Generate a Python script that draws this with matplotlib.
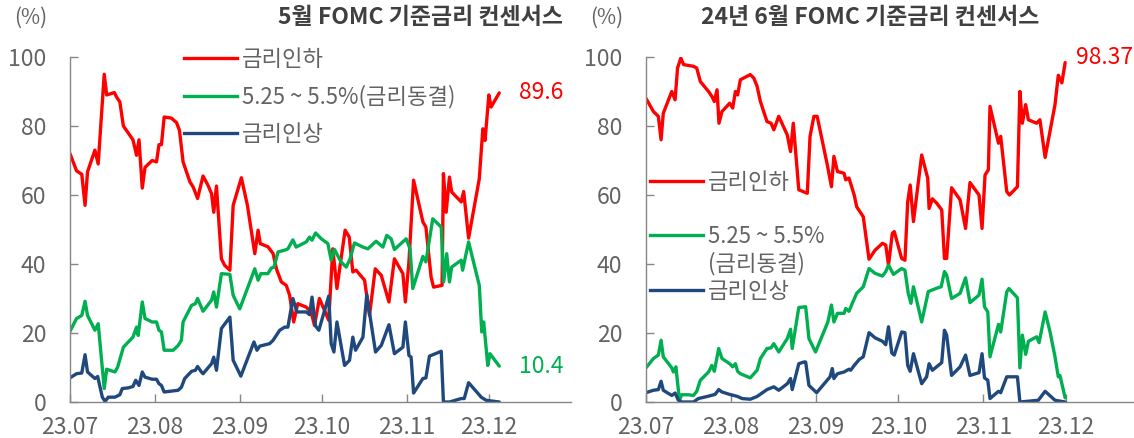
import matplotlib
matplotlib.use("Agg")
import matplotlib.pyplot as plt
import matplotlib.dates as mdates
from matplotlib.lines import Line2D
import numpy as np
import pandas as pd

plt.rcParams['font.family'] = ['Noto Sans CJK KR', 'DejaVu Sans']

# ---------------- data (days since 2023-07-01, probability %) ----------------
start_date = "2023-07-01"
end_date = "2023-12-31"
month_ticks = ["2023-07-01", "2023-08-01", "2023-09-01", "2023-10-01", "2023-11-01", "2023-12-01"]

series_labels = ["금리인하", "5.25 ~ 5.5%(금리동결)", "금리인상"]
left_title = "5월 FOMC 기준금리 컨센서스"
right_title = "24년 6월 FOMC 기준금리 컨센서스"

# Left panel: May FOMC
may_cut_days = [0, 2.4, 4.3, 5.5, 6.4, 9.1, 10.3, 12.5, 13.4, 16.2,
                17, 18.2, 19.5, 23, 24.3, 25.2, 26.4, 27.4, 30, 31.6,
                32.5, 33.4, 34.4, 37, 38.9, 40, 41.3, 43.8, 45, 46.6,
                48.6, 50.4, 51.7, 52.5, 53.5, 55.3, 56.5, 58.4, 59.6, 62.6,
                64.8, 67.5, 68.7, 69.5, 72.3, 74.2, 75.4, 77.2, 79, 80.2,
                81.7, 83.2, 86.3, 88.1, 89.3, 91.1, 94.5, 96, 97.5, 99,
                100.5, 102, 103.3, 104.5, 107.6, 109.4, 111.5, 113.7, 116.5, 118.5,
                121.6, 122.5, 123.8, 125.5, 128.9, 130, 131.9, 132.8, 135.9, 136.4,
                137.4, 138.6, 139.4, 142.9, 143.8, 145.6, 149.5, 150.8, 151.6, 153,
                153.8, 156.8]
may_cut = [72, 67, 66, 57, 66.7, 73, 69, 95, 89, 89.7,
           88.4, 87, 80, 76, 71.5, 76, 62, 68, 70, 69.6,
           74.6, 74.6, 82.6, 82.3, 81, 78.7, 69.6, 63.8, 62.3, 59,
           65.5, 62.8, 60.4, 55, 62.6, 41.5, 39.6, 38.2, 57, 65,
           57, 43, 49.8, 45.9, 45, 43, 38.6, 34.8, 33.8, 31,
           23.2, 28.5, 27.5, 26, 22.2, 30, 23.7, 44.4, 32.9, 41.5,
           49.8, 47.8, 37.7, 38.2, 35.3, 25.1, 38.6, 36.7, 29, 41.5,
           37.2, 29, 40.6, 64.3, 52.2, 50.7, 36.2, 33.3, 33.8, 66.2,
           55, 65.2, 60.9, 58, 61, 47.5, 64.7, 79.2, 75.8, 89,
           85.5, 89.6]

may_hold_days = [0, 2.4, 4.3, 5.5, 6.4, 9.1, 10.3, 12.5, 13.4, 16.4,
                 17.4, 19.5, 23, 24.3, 24.9, 26.4, 27.4, 30, 31.6, 32.5,
                 33.4, 34.4, 37.7, 39.5, 40.7, 41.3, 44.4, 45.8, 46.6, 48.6,
                 51.7, 52.5, 53.5, 55.3, 58.4, 59.6, 62, 67.5, 68.7, 69.7,
                 72.3, 73.5, 74.5, 76, 78.4,
                 79.6, 81.4, 82.6, 86.3, 87.5, 88.4, 89.7, 91.8, 94.2, 95.4,
                 96.6, 99, 100.9, 102.3, 103.9, 107, 108.8, 111.8, 114.3, 115.7,
                 117.3, 118.5, 122.8, 124.2, 125.2, 128.9, 130, 132.5, 135.6, 136.5,
                 137.6, 138.6, 139.4, 142.9, 143.4, 145.6, 149.5, 150.4, 151.1, 152.6,
                 153.4, 156.8]
may_hold = [20.5, 24.2, 25.1, 29.2, 25.1, 20.8, 22.7, 3.9, 9.5, 8.7,
            10.1, 15.9, 18.8, 21.7, 19.3, 29, 24.2, 23.2, 23.2, 20.8,
            20.3, 15, 15, 16.4, 17.9, 23.2, 28, 28.5, 30, 26.3,
            29.5, 31.9, 27.5, 37.2, 37, 30.9, 27, 38.6, 35.3, 37.2,
            37.2, 38.8, 39.1, 43.5, 44,
            44.4, 47, 44.9, 46.4, 47.8, 46.9, 49, 47.3, 45.9, 41.1,
            44.2, 40.6, 39.1, 41.5, 46.1, 44.9, 44.4, 46.6, 44.9, 48.3,
            47.3, 44.2, 47.3, 44.4, 32.9, 42.2, 40.6, 53.1, 50.7, 34.8,
            43, 34.8, 39.1, 41.1, 38.2, 46.4, 33.8, 20.3, 23.2, 10.6,
            14, 10.4]

may_hike_days = [0, 2.4, 4.3, 5.5, 6.4, 9.1, 10.1, 10.7, 11.8, 12.8,
                 14, 16.4, 18.2, 19.1, 21.3, 23, 24, 25.2, 26.4, 27.4,
                 30, 31.6, 32.5, 33.4, 34.4, 39.5, 40.7, 41.9, 44.4, 45.8,
                 46.6, 48, 48.6, 51.7, 52.5, 53.5, 55.3, 58.4, 59.6, 62.4,
                 67.2, 68.3, 69.3, 72.9, 74.2, 76.6, 78.4,
                 79.6, 81.4, 82.9, 86.3, 87.5, 88.4, 89.7, 90.9, 94.5, 95.4,
                 96.4, 97.5, 100.3, 102.1, 103.3, 104.3, 107, 108.4, 111.6, 113.7,
                 116.5, 118.5, 121.6, 122.5, 123.8, 124.6, 125.5, 128.9, 130, 131.3,
                 135.6, 136.4, 138.6, 142.9, 144, 145.6, 150.2, 152, 156.8]
may_hike = [7, 8.2, 8.4, 13.7, 8.7, 6.8, 7.4, 5.3, 1.4, 0.2,
            1.4, 1.4, 2.1, 3.9, 4.1, 4.5, 6.3, 4.8, 8.7, 7.2,
            6.6, 6.6, 5.3, 4.8, 2.9, 3.4, 4.3, 6.8, 8.9, 9.2,
            10.3, 8.7, 8.2, 11.1, 13, 9.2, 21.3, 24.6, 12.1, 7.5,
            17.4, 15, 16.2, 16.9, 17.9, 20.8, 21.7,
            21.7, 30, 26.1, 26.1, 25.3, 30.4, 22, 20.8, 30.7, 16.9,
            14.5, 23.2, 10.6, 12.1, 18.8, 15, 18.8, 31.1, 14.5, 16.4,
            22.4, 14, 15.9, 23.2, 13.5, 13, 2.6, 6.8, 7, 13.3,
            14.7, 0, 0, 1, 1, 5.6, 1.4, 0.5, 0]

# Right panel: June 2024 FOMC
jun_cut_days = [0, 2.7, 4.5, 5.5, 6.3, 9.4, 10.6, 11.5, 12.7, 13.7,
                17.3, 18.5, 19.8, 22.8, 24, 24.9, 25.9, 26.6, 27.7, 30.5,
                31.6, 32.6, 33.4, 34.4, 38, 39.3, 40.5, 41.7, 44.1, 45.6,
                46.6, 48.4, 51.5, 52.7, 53.7, 55.7, 58.8, 59.8, 61.2, 62.4,
                66.1, 67.6, 68.5, 69.8, 72.2, 72.8, 74, 75.9, 76.8,
                79.2, 81.3, 83.5, 86.2, 87.4, 88.4, 89.8, 90.5, 93.2, 94.4,
                95.4, 96.3, 97.5, 100.5, 102.7, 103.2, 104.4, 106, 107.8, 108.8,
                109.6, 111.4, 114.5, 116.5, 118.1, 121.4, 122.5, 123.6, 124.8, 125.4,
                128.5, 129.3, 131.5, 132.5, 135.4, 136.3, 137.2, 138.4, 139.4, 142.4,
                143.6, 145.5, 149.1, 150.3, 151.6, 152.8]
jun_cut = [88, 84.2, 82.8, 76, 83.7, 90, 87.6, 96.8, 99.7, 97.8,
           97.3, 96.8, 92.9, 90, 88.6, 87.1, 90.5, 80.8, 84.2, 86.6,
           85.2, 90, 89, 93.4, 94.9, 93.9, 91.5, 87.1, 81.3, 80.8,
           78.9, 82.8, 77.4, 72.6, 80.8, 61.5, 60.5, 77, 82.8, 82.8,
           68.7, 62.4, 71.2, 66.8, 66.3, 64.4, 64.9, 60, 56.6,
           53.7, 41.4, 44, 46, 45.5, 39.7, 48.9, 49.4, 41.6, 41.1,
           58, 62.9, 52.3, 71.6, 64.9, 56.1, 58.9, 57.6, 55.7, 41.6,
           41.6, 62.1, 58.6, 50.3, 63.6, 60, 50.3, 65.8, 67.3, 85.7,
           75, 77, 61, 60, 62.4, 90, 80.8, 86.2, 81.8, 80.8,
           81.8, 70.9, 86.2, 94.7, 92.5, 98.37]

jun_hold_days = [0, 2.7, 4.5, 5.5, 6.3, 9.4, 10, 10.9, 12.2, 13,
                 15.5, 17.3, 18.5, 19.8, 22.8, 24, 24.9, 26.5, 27.7, 30.5,
                 31.6, 32.6, 33.4, 34.4, 38, 40.5, 41.7, 44.1, 45.6, 46.6,
                 48.4, 51.5, 52.7, 53.3, 55.7, 58.2, 59.4, 61.8, 66.3, 67.6,
                 68.5, 69.8, 72.2, 72.8, 74, 75.2, 76.8,
                 79.2, 81.3, 83.5, 86.2, 87.4, 88.4, 90.2, 93.2, 94.4, 95.6,
                 96.6, 97.5, 100.5, 102.9, 104.1, 106, 107.6, 108.8, 109.6, 111.4,
                 114.5, 116.5, 118.1, 121.4, 122.5, 123.4, 124.6, 125.4, 128.5, 129.3,
                 131.5, 132.3, 135.4, 136.3, 137.2, 138.4, 139.4, 142.4, 143.3, 145.5,
                 147.3, 149.1, 150.3, 150.9, 151.6, 152.8]
jun_hold = [9.9, 12.6, 13.6, 17.9, 13.1, 9.9, 8.7, 10.2, 0.5, 2.1,
            2.1, 1.9, 3.1, 6.3, 8.7, 10.6, 8.9, 15.5, 12.6, 11.1,
            10.2, 11.1, 8.9, 8.2, 7, 9.2, 12.6, 15.5, 15.7, 16.9,
            14.5, 18.4, 21.1, 15.5, 27.4, 27.6, 18.4, 14.5, 23.2, 28.1,
            23.2, 25.7, 25.7, 27.1, 26.3, 28.6, 31.5,
            33.4, 38.7, 37.3, 36.5, 37.8, 39.7, 37, 38.7, 38.2, 31.5,
            28.6, 33.4, 23.2, 32, 32.4, 33, 33.4, 37.8, 36.8, 30,
            31.5, 36, 28.8, 31, 35.6, 27.6, 26.1, 13.1, 22.5, 20.3,
            31.9, 32.9, 30.2, 9.9, 19.4, 13.8, 17.6, 18.9, 17.2, 26.1,
            20.3, 13.1, 7.3, 7.7, 5.3, 1.2]

jun_hike_days = [0, 2.7, 4.5, 5.5, 6.3, 9.4, 10.6, 11.8, 13, 17.3,
                 19.1, 22.8, 25.2, 26.5, 27.7, 30.5, 32, 33.4, 35, 38,
                 40.5, 44.1, 46.6, 48.4, 51.5, 52.7, 53.3, 55.7, 57.6, 58.2,
                 59.4, 62.2, 67.1, 67.9, 68.5, 69.8, 72.2, 74, 74.6, 75.9,
                 77.7,
                 79.2, 81.3, 83.5, 86.2, 87.4, 88.4, 89.6, 90.5, 93.2, 94.4,
                 95.4, 96.3, 97.5, 100.5, 102.3, 103.2, 104.4, 107.8, 108.8, 109.6,
                 111.4, 114.5, 116.5, 118.1, 121.4, 122.5, 123.4, 124.6, 125.4, 128.5,
                 129.3, 131.5, 135.4, 136.3, 143, 145.5, 149.1, 152.8]
jun_hike = [2.7, 3.4, 3.6, 6, 3.4, 1.9, 2.6, 0.5, 0, 0,
            1, 1.7, 2.2, 3.6, 2.9, 2.2, 1.9, 1.6, 1, 0.8,
            1.6, 3.6, 4.4, 3.4, 5.3, 6.8, 3.6, 11.1, 11.6, 11.6,
            4.8, 2.7, 7.3, 9.7, 6.8, 8.2, 8.7, 9.5, 9.2, 10.6,
            12.3,
            13.1, 20.1, 18.6, 17.6, 16.6, 21.8, 14.2, 13.6, 20.3, 20.1,
            10.6, 8.9, 14, 5.3, 7.3, 11.1, 9.2, 11.4, 20.8, 19.4,
            7.7, 10.2, 13.6, 7.7, 8.5, 14, 7, 6.3, 1, 3.1,
            2.7, 7.3, 7.3, 0, 0.5, 3.1, 0.5, 0]

# ---------------- style ----------------
RED = "#FF0000"
GREEN = "#00B050"
BLUE = "#1F497D"
AXIS_GRAY = "#868686"
TEXT_GRAY = "#636363"
TITLE_GRAY = "#404040"
LW = 2.4
TICK_FS = 16.5
LEG_FS = 16

base = pd.Timestamp(start_date)


def to_dates(days):
    return base + pd.to_timedelta(np.asarray(days, dtype=float), unit="D")


W, H = 1134, 438
fig = plt.figure(figsize=(W / 100, H / 100), dpi=100)


def px_rect(x0, y_top, x1, y_bottom):
    return [x0 / W, (H - y_bottom) / H, (x1 - x0) / W, (y_bottom - y_top) / H]


ax1 = fig.add_axes(px_rect(70, 57, 571, 402))
ax2 = fig.add_axes(px_rect(646, 57, 1148, 402))

panels = [
    (ax1, [(may_cut_days, may_cut, RED), (may_hold_days, may_hold, GREEN), (may_hike_days, may_hike, BLUE)]),
    (ax2, [(jun_cut_days, jun_cut, RED), (jun_hold_days, jun_hold, GREEN), (jun_hike_days, jun_hike, BLUE)]),
]

for ax, series in panels:
    for d, v, c in series:
        ax.plot(to_dates(d), v, color=c, lw=LW, solid_joinstyle="round", solid_capstyle="round")
    ax.set_xlim(pd.Timestamp(start_date), pd.Timestamp(end_date))
    ax.set_ylim(0, 100)
    ax.set_yticks([0, 20, 40, 60, 80, 100])
    ax.set_xticks(pd.to_datetime(month_ticks))
    ax.xaxis.set_major_formatter(mdates.DateFormatter("%y.%m"))
    for s in ["top", "right"]:
        ax.spines[s].set_visible(False)
    for s in ["left", "bottom"]:
        ax.spines[s].set_color(AXIS_GRAY)
        ax.spines[s].set_linewidth(1.0)
    ax.tick_params(axis="y", direction="in", length=6, width=1, color=AXIS_GRAY,
                   labelcolor=TEXT_GRAY, labelsize=TICK_FS, pad=17)
    ax.tick_params(axis="x", direction="in", length=6, width=1, color=AXIS_GRAY,
                   labelcolor=TEXT_GRAY, labelsize=TICK_FS, pad=10)
    ax.patch.set_alpha(0)

# end-value annotations
ax1.annotate(f"{may_cut[-1]:.1f}", xy=(to_dates([may_cut_days[-1]])[0], may_cut[-1]),
             xytext=(14, 0), textcoords="offset points", color=RED, fontsize=TICK_FS,
             va="center", ha="left")
ax1.annotate(f"{may_hold[-1]:.1f}", xy=(to_dates([may_hold_days[-1]])[0], may_hold[-1]),
             xytext=(14, 0), textcoords="offset points", color=GREEN, fontsize=TICK_FS,
             va="center", ha="left")
ax2.annotate(f"{jun_cut[-1]:.2f}", xy=(to_dates([jun_cut_days[-1]])[0], jun_cut[-1]),
             xytext=(8, 4), textcoords="offset points", color=RED, fontsize=TICK_FS,
             va="center", ha="left")

# titles and unit labels
fig.text(563 / W, 1 - 17 / H, left_title, ha="right", va="center", fontsize=16.5,
         fontweight="bold", color=TITLE_GRAY)
fig.text(870 / W, 1 - 17 / H, right_title, ha="center", va="center", fontsize=16.5,
         fontweight="bold", color=TITLE_GRAY)
fig.text(31 / W, 1 - 18 / H, "(%)", ha="center", va="center", fontsize=15, color=TEXT_GRAY)
fig.text(607 / W, 1 - 18 / H, "(%)", ha="center", va="center", fontsize=15, color=TEXT_GRAY)

# legends
h_red = Line2D([], [], color=RED, lw=LW)
h_green = Line2D([], [], color=GREEN, lw=LW)
h_blue = Line2D([], [], color=BLUE, lw=LW)
h_none = Line2D([], [], color="none", lw=0)

leg1 = ax1.legend([h_red, h_green, h_blue], series_labels, loc="upper left",
                  bbox_to_anchor=(184 / W, 1 - 48 / H), bbox_transform=fig.transFigure,
                  frameon=False, fontsize=LEG_FS, handlelength=2.4, handletextpad=0.22,
                  labelspacing=0.64, borderpad=0, borderaxespad=0, labelcolor=TEXT_GRAY)

hold_parts = series_labels[1].split("(")
leg2 = ax2.legend([h_red, h_none, h_green, h_none, h_blue],
                  [series_labels[0], " ", hold_parts[0].strip(), "(" + hold_parts[1], series_labels[2]],
                  loc="upper left",
                  bbox_to_anchor=(650 / W, 1 - 171 / H), bbox_transform=fig.transFigure,
                  frameon=False, fontsize=LEG_FS, handlelength=2.4, handletextpad=0.22,
                  labelspacing=0.18, borderpad=0, borderaxespad=0, labelcolor=TEXT_GRAY)

fig.savefig("out.png", dpi=100)
